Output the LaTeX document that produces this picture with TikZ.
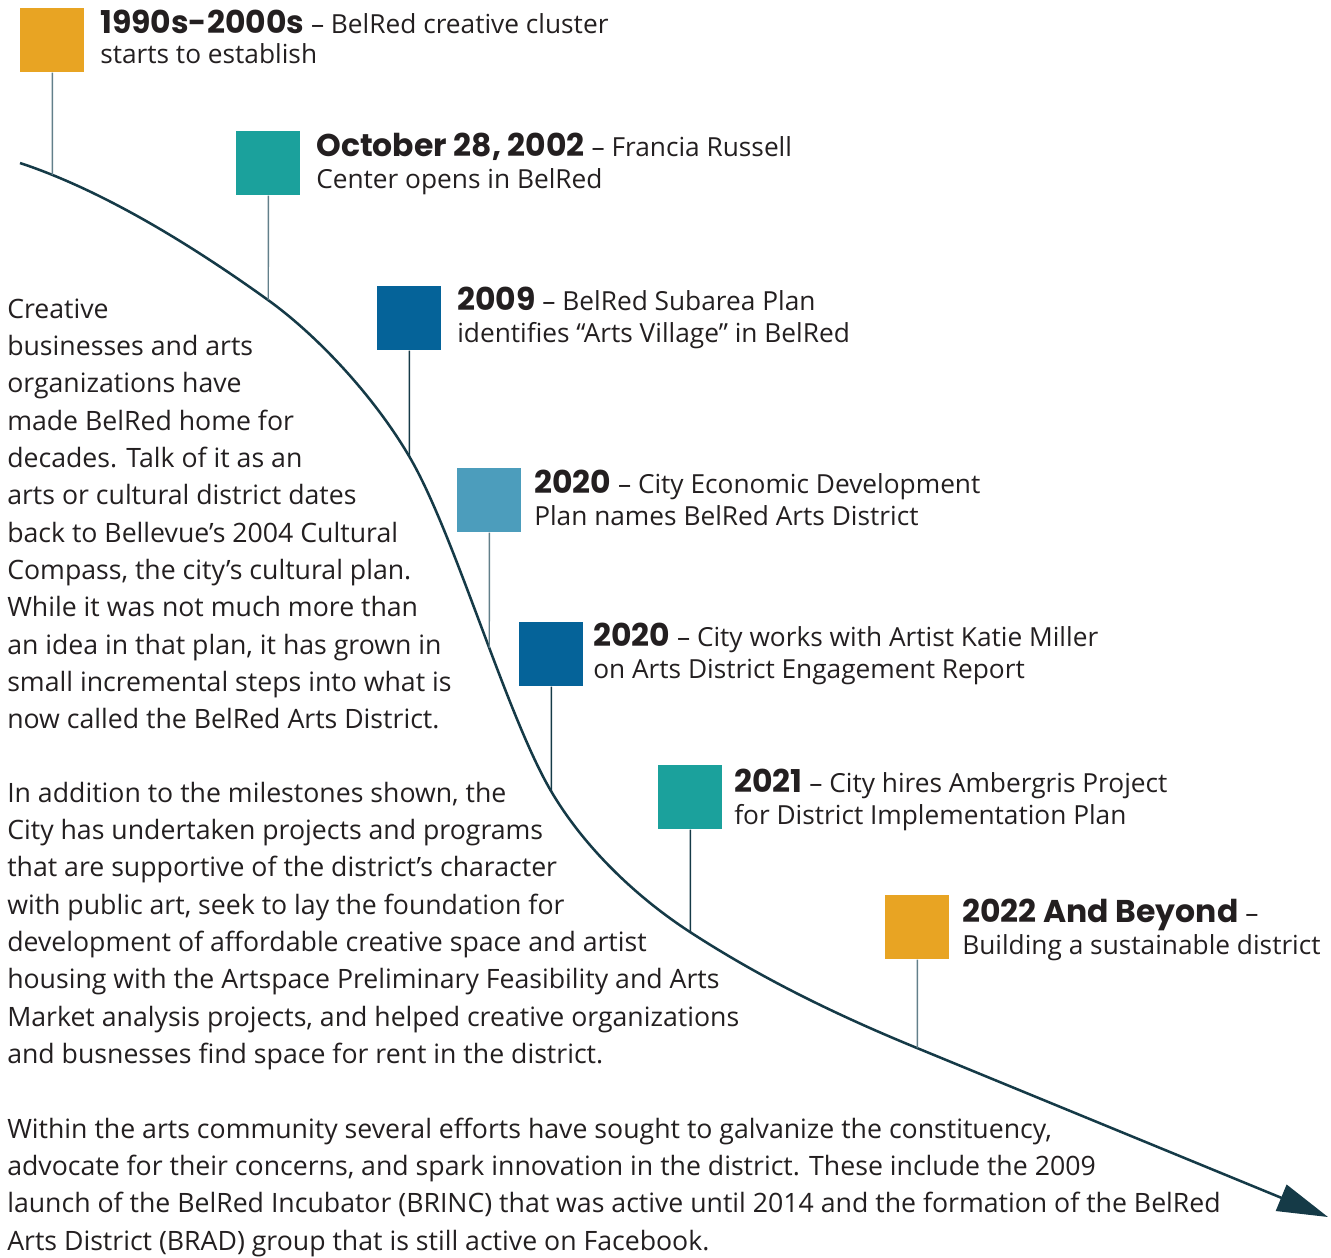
\documentclass[tikz,border=0pt]{standalone}
\usepackage{fontspec}
\setmainfont{Open Sans}
\newfontfamily\headfont{Poppins}
\usetikzlibrary{arrows.meta,intersections}
\definecolor{txt}{HTML}{231F20}
\definecolor{cOrange}{HTML}{E8A423}
\definecolor{cTeal}{HTML}{1BA19C}
\definecolor{cBlue}{HTML}{056399}
\definecolor{cLight}{HTML}{4C9DBC}
\definecolor{cLine}{HTML}{153A47}
\definecolor{cStem}{HTML}{627F8A}
\newcommand{\yr}[1]{{\headfont\bfseries\fontsize{23.6pt}{26pt}\selectfont #1}}
\begin{document}
\begin{tikzpicture}[x=0.75pt,y=-0.75pt,
  mbox/.style={draw=none,minimum size=48pt,inner sep=0pt,anchor=north west},
  stemline/.style={line width=1.1pt,draw=cStem},
  stemdark/.style={line width=1.1pt,draw=cLine},
  curveline/.style={line width=1.9pt,draw=cLine,-{Triangle[length=38pt,width=21pt]}},
  hd/.style={anchor=base west,inner sep=0pt,text=txt,font=\fontsize{19.7pt}{24pt}\selectfont},
  body/.style={anchor=base west,inner sep=0pt,text=txt,font=\fontsize{20pt}{28pt}\selectfont}
]
\useasboundingbox (0,0) rectangle (1331,1257);

% milestone boxes
\node[mbox,fill=cOrange] (b1) at (20,8) {};
\node[mbox,fill=cTeal]   (b2) at (236,131) {};
\node[mbox,fill=cBlue]   (b3) at (377,286) {};
\node[mbox,fill=cLight]  (b4) at (457,468) {};
\node[mbox,fill=cBlue]   (b5) at (519,622) {};
\node[mbox,fill=cTeal]   (b6) at (658,765) {};
\node[mbox,fill=cOrange] (b7) at (885,895) {};

% points on the timeline
\coordinate (s0) at (20,163);
\coordinate (k2) at (268,300);
\coordinate (k3) at (409,456);
\coordinate (k5) at (551,791);
\coordinate (k6) at (690,932);
\coordinate (k7) at (917,1048);
\coordinate (tip) at (1328,1217);

% timeline
\draw[curveline,name path=tl] (s0) .. controls (100,189.4) and (188,242.4) .. (k2)
  .. controls (318,336) and (374,396.5) .. (k3)
  .. controls (454,532) and (506,714.5) .. (k5)
  .. controls (586,850.5) and (640,899.5) .. (k6)
  .. controls (765,980.75) and (842,1017.25) .. (k7) -- (tip);

% stems
\foreach \i in {1,...,7} {
  \path[name path=v\i] (b\i.south) -- ++(0,400);
  \path[name intersections={of=tl and v\i, by=q\i}];
}
\draw[stemline] (b1.south) -- (q1);
\draw[stemline] (b2.south) -- (q2);
\draw[stemdark] (b3.south) -- (q3);
\draw[stemline] (b4.south) -- (q4);
\draw[stemdark] (b5.south) -- (q5);
\draw[stemdark] (b6.south) -- (q6);
\draw[stemline] (b7.south) -- (q7);

% milestone texts
\node[hd] (t1a) at (100,33) {\yr{1990s-2000s} -- BelRed creative cluster};
\node[hd] (t1b) at (100,63) {starts to establish};
\node[hd] (t2a) at (316,156) {\yr{October 28, 2002} -- Francia Russell};
\node[hd] (t2b) at (316,188) {Center opens in BelRed};
\node[hd] (t3a) at (457,310) {\yr{2009} -- BelRed Subarea Plan};
\node[hd] (t3b) at (457,342) {identifies “Arts Village” in BelRed};
\node[hd] (t4a) at (534,493) {\yr{2020} -- City Economic Development};
\node[hd] (t4b) at (534,525) {Plan names BelRed Arts District};
\node[hd] (t5a) at (593,646) {\yr{2020} -- City works with Artist Katie Miller};
\node[hd] (t5b) at (593,678) {on Arts District Engagement Report};
\node[hd] (t6a) at (734,792) {\yr{2021} -- City hires Ambergris Project};
\node[hd] (t6b) at (734,824) {for District Implementation Plan};
\node[hd] (t7a) at (962,922) {\yr{2022 And Beyond} --};
\node[hd] (t7b) at (962,954) {Building a sustainable district};

% body paragraphs
\node[body] (para1) at (7,318) {\parbox[t]{700pt}{\raggedright
Creative\\
businesses and arts\\
organizations have\\
made BelRed home for\\
decades. Talk of it as an\\
arts or cultural district dates\\
back to Bellevue’s 2004 Cultural\\
Compass, the city’s cultural plan.\\
While it was not much more than\\
an idea in that plan, it has grown in\\
small incremental steps into what is\\
now called the BelRed Arts District.}};
\node[body] (para2) at (7,802) {\parbox[t]{700pt}{\raggedright
In addition to the milestones shown, the\\
City has undertaken projects and programs\\
that are supportive of the district’s character\\
with public art, seek to lay the foundation for\\
development of affordable creative space and artist\\
housing with the Artspace Preliminary Feasibility and Arts\\
Market analysis projects, and helped creative organizations\\
and busnesses find space for rent in the district.}};
\node[body] (para3) at (7,1138) {\parbox[t]{980pt}{\raggedright
Within the arts community several efforts have sought to galvanize the constituency,\\
advocate for their concerns, and spark innovation in the district. These include the 2009\\
launch of the BelRed Incubator (BRINC) that was active until 2014 and the formation of the BelRed\\
Arts District (BRAD) group that is still active on Facebook.}};
\end{tikzpicture}
\end{document}
